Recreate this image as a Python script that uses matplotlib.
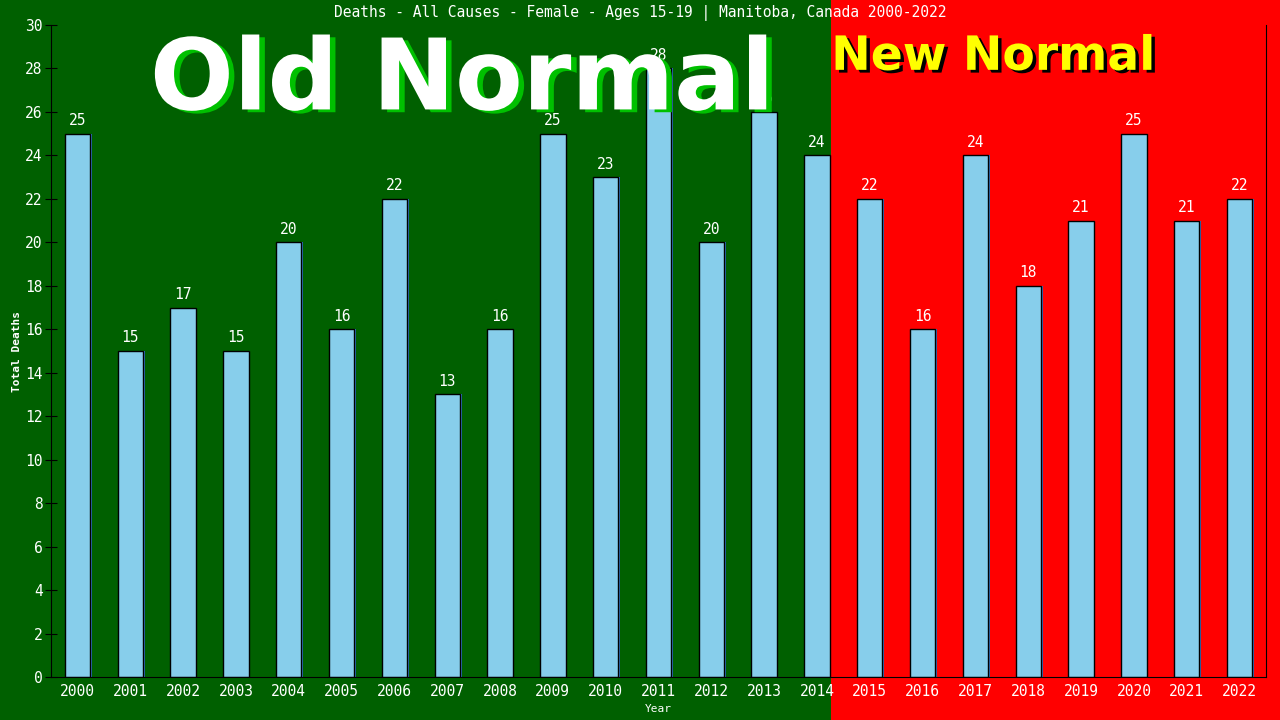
import matplotlib
matplotlib.use("Agg")
import matplotlib.pyplot as plt
import matplotlib.transforms as mtransforms
import matplotlib.patheffects as pe
from matplotlib.patches import Rectangle

years = [str(y) for y in range(2000, 2023)]
deaths = [25, 15, 17, 15, 20, 16, 22, 13, 16, 25, 23, 28, 20, 26, 24,
          22, 16, 24, 18, 21, 25, 21, 22]
split_after = "2014"

green = "#006000"
red = "#ff0000"
mono = "DejaVu Sans Mono"

fig = plt.figure(figsize=(12.8, 7.2), dpi=100)
fig.patch.set_facecolor(green)
ax = fig.add_axes([51 / 1280, 43 / 720, 1215 / 1280, 652 / 720])
ax.set_facecolor("none")

x = list(range(len(years)))
bars = ax.bar(x, deaths, width=0.48, color="#87ceeb", edgecolor="black",
              linewidth=1, zorder=2)
for b in bars:
    b.set_path_effects([pe.SimplePatchShadow(offset=(1.2, 0), shadow_rgbFace="#3070c0", alpha=1),
                        pe.Normal()])

for xi, v in zip(x, deaths):
    ax.annotate(str(v), (xi, v), xytext=(0, 4), textcoords="offset points",
                ha="center", va="bottom", color="white", fontsize=10.5,
                family=mono, zorder=3)

ax.set_xlim(-0.5, len(years) - 0.5)
ax.set_ylim(0, 30)
ax.set_yticks(range(0, 31, 2))
ax.set_xticks(x)
ax.set_xticklabels(years)
ax.tick_params(axis="y", direction="inout", length=8, color="black",
               labelcolor="white", labelsize=10.5, pad=2)
ax.tick_params(axis="x", length=0, labelcolor="white", labelsize=10.5, pad=5)
for lab in ax.get_xticklabels() + ax.get_yticklabels():
    lab.set_family(mono)
for s in ["left", "bottom", "right"]:
    ax.spines[s].set_color("black")
ax.spines["top"].set_visible(False)

ax.set_xlabel("Year", color="white", fontsize=8, family=mono, labelpad=4)
ax.set_ylabel("Total Deaths", color="white", fontsize=8, family=mono,
              fontweight="bold", labelpad=2)

# red background for the new normal period, whole figure height
boundary = years.index(split_after) + 0.27
trans = mtransforms.blended_transform_factory(ax.transData, fig.transFigure)
fig.patches.append(Rectangle((boundary, 0), 100, 1, transform=trans,
                             facecolor=red, edgecolor="none", zorder=-1,
                             figure=fig))

fig.text(0.5, 0.982, "Deaths - All Causes - Female - Ages 15-19 | Manitoba, Canada 2000-2022",
         ha="center", va="center", color="white", fontsize=10.5, family=mono)

ax.text(0.361, 0.848, "Old Normal", transform=fig.transFigure, ha="center",
        va="baseline", color="white", fontsize=71, fontweight="bold",
        family="DejaVu Sans", zorder=5,
        path_effects=[pe.SimplePatchShadow(offset=(4, -2), shadow_rgbFace="#00c000", alpha=1),
                      pe.Normal()])
ax.text(boundary, 0.903, "New Normal", transform=trans, ha="left",
        va="baseline", color="#ffff00", fontsize=34, fontweight="bold",
        family="DejaVu Sans", zorder=5,
        path_effects=[pe.SimplePatchShadow(offset=(2.5, -2), shadow_rgbFace="black", alpha=1),
                      pe.Normal()])

fig.savefig("out.png", dpi=100, facecolor=fig.get_facecolor())
